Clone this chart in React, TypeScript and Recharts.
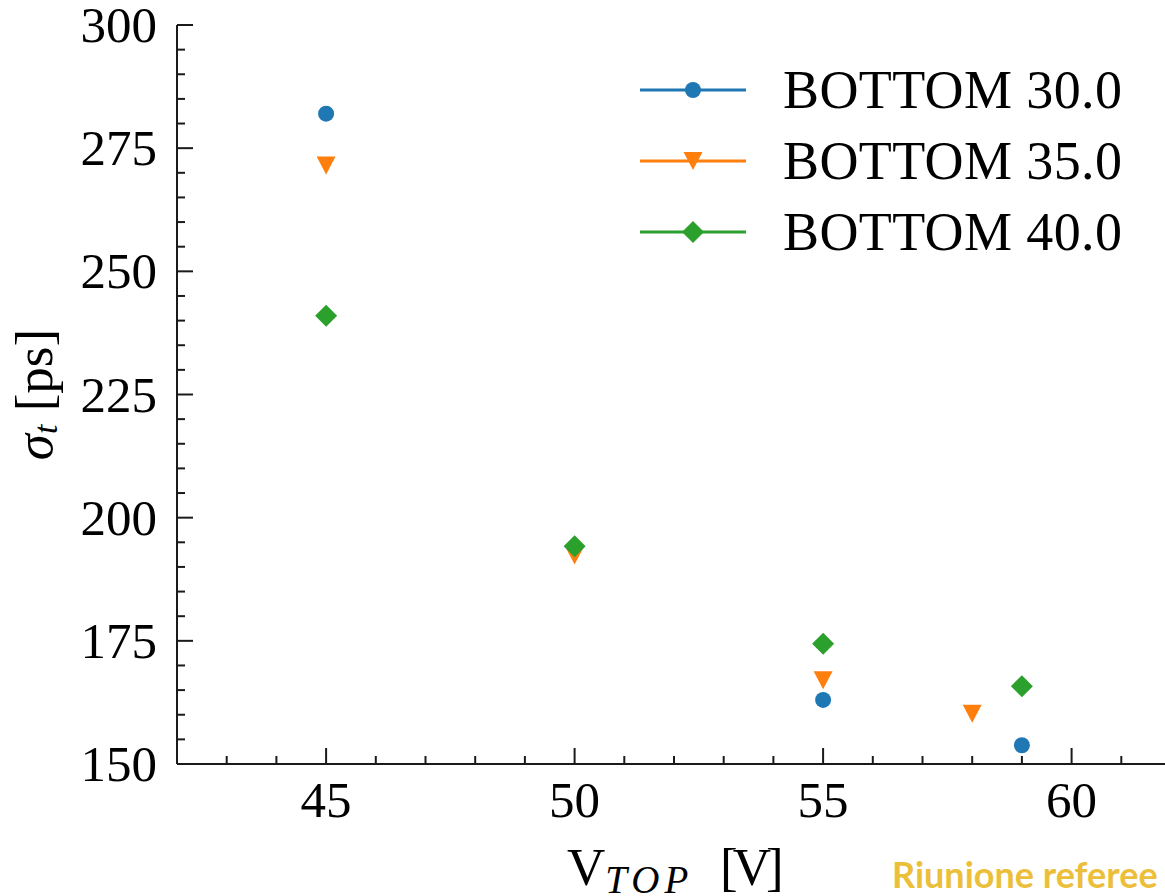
import { ScatterChart, Scatter, XAxis, YAxis, Legend } from "recharts";

// sigma_t [ps] vs V_TOP [V], one series per BOTTOM voltage
const bottom30 = [
  { v: 45, sigma: 282 },
  { v: 55, sigma: 163 },
  { v: 59, sigma: 153.8 },
];
const bottom35 = [
  { v: 45, sigma: 271.5 },
  { v: 50, sigma: 192.3 },
  { v: 55, sigma: 167 },
  { v: 58, sigma: 160.2 },
];
const bottom40 = [
  { v: 45, sigma: 241 },
  { v: 50, sigma: 194.2 },
  { v: 55, sigma: 174.4 },
  { v: 59, sigma: 165.8 },
];

const seriesNames = ["BOTTOM 30.0", "BOTTOM 35.0", "BOTTOM 40.0"];
const seriesColors = ["#1f77b4", "#ff7f0e", "#2ca02c"];

const xTicks = [42, 43, 44, 45, 46, 47, 48, 49, 50, 51, 52, 53, 54, 55, 56, 57, 58, 59, 60, 61, 62];
const xMajor = [45, 50, 55, 60];
const yTicks = Array.from({ length: 31 }, (_, i) => 150 + i * 5);
const yMajor = [150, 175, 200, 225, 250, 275, 300];

const serif = "'Liberation Serif', 'DejaVu Serif', serif";
const ink = "#1a1a1a";

type MarkProps = { cx?: number; cy?: number; fill?: string };

const Dot = ({ cx = 0, cy = 0, fill }: MarkProps) => <circle cx={cx} cy={cy} r={8} fill={fill} />;
const TriDown = ({ cx = 0, cy = 0, fill }: MarkProps) => (
  <polygon points={`${cx - 9.5},${cy - 9} ${cx + 9.5},${cy - 9} ${cx},${cy + 9}`} fill={fill} />
);
const Diamond = ({ cx = 0, cy = 0, fill }: MarkProps) => (
  <polygon points={`${cx},${cy - 11} ${cx + 11},${cy} ${cx},${cy + 11} ${cx - 11},${cy}`} fill={fill} />
);
const marks = [Dot, TriDown, Diamond];

// inward ticks, labels only on majors
const BottomTick = (p: any) => {
  const major = xMajor.includes(p.payload.value);
  return (
    <g>
      <line x1={p.x} x2={p.x} y1={p.y} y2={p.y - (major ? 16 : 8)} stroke={ink} strokeWidth={2} />
      {major && (
        <text x={p.x} y={p.y + 53} textAnchor="middle" fontFamily={serif} fontSize={51} fill="#000">
          {p.payload.value}
        </text>
      )}
    </g>
  );
};
const TopTick = (p: any) => {
  const major = xMajor.includes(p.payload.value);
  return <line x1={p.x} x2={p.x} y1={p.y} y2={p.y + (major ? 16 : 8)} stroke={ink} strokeWidth={2} />;
};
const LeftTick = (p: any) => {
  const major = yMajor.includes(p.payload.value);
  return (
    <g>
      <line x1={p.x} x2={p.x + (major ? 16 : 8)} y1={p.y} y2={p.y} stroke={ink} strokeWidth={2} />
      {major && (
        <text x={p.x - 20} y={p.y + 17} textAnchor="end" fontFamily={serif} fontSize={51} fill="#000">
          {p.payload.value}
        </text>
      )}
    </g>
  );
};
const RightTick = (p: any) => {
  const major = yMajor.includes(p.payload.value);
  return <line x1={p.x} x2={p.x - (major ? 16 : 8)} y1={p.y} y2={p.y} stroke={ink} strokeWidth={2} />;
};

const LegendBox = () => (
  <div style={{ fontFamily: serif, fontSize: 54, color: "#000" }}>
    {seriesNames.map((name, i) => {
      const Mark = marks[i];
      return (
        <div key={name} style={{ display: "flex", alignItems: "center", height: 71 }}>
          <svg width={110} height={30} style={{ display: "block" }}>
            <line x1={2} x2={108} y1={15} y2={15} stroke={seriesColors[i]} strokeWidth={3} />
            <Mark cx={55} cy={15} fill={seriesColors[i]} />
          </svg>
          <span style={{ marginLeft: 35, letterSpacing: 0.4, lineHeight: 1 }}>{name}</span>
        </div>
      );
    })}
  </div>
);

const XLabel = (lp: any) => {
  const vb = lp.viewBox;
  const cx = vb.x + vb.width / 2;
  const base = vb.y + 121;
  return (
    <text x={cx - 107} y={base} fontFamily={serif} fontSize={53} fill="#000">
      V
      <tspan fontStyle="italic" fontSize={39} dy={8} letterSpacing={5}>TOP</tspan>
      <tspan x={cx + 46} dy={-8} letterSpacing={-5}>[V]</tspan>
    </text>
  );
};

const YLabel = (lp: any) => {
  const vb = lp.viewBox;
  const cx = vb.x + 52;
  const cy = vb.y + vb.height / 2;
  return (
    <text
      x={cx}
      y={cy}
      transform={`rotate(-90 ${cx} ${cy})`}
      textAnchor="middle"
      fontFamily={serif}
      fontSize={53}
      fill="#000"
    >
      <tspan fontStyle="italic">σ</tspan>
      <tspan fontStyle="italic" fontSize={34} dy={5}>t</tspan>
      <tspan dy={-5}> [ps]</tspan>
    </text>
  );
};

const axisLine = { stroke: ink, strokeWidth: 2 };

export default function App() {
  const all = [bottom30, bottom35, bottom40];
  return (
    <div
      style={{
        position: "fixed",
        left: 0,
        top: 0,
        width: 1165,
        height: 896,
        overflow: "hidden",
        background: "#fff",
      }}
    >
      <ScatterChart width={1200} height={896} margin={{ top: 25, right: 29, bottom: 0, left: 0 }}>
        <XAxis
          xAxisId="b"
          type="number"
          dataKey="v"
          domain={[42, 62]}
          ticks={xTicks}
          interval={0}
          height={132}
          tickSize={0}
          tickMargin={0}
          axisLine={axisLine}
          tick={<BottomTick />}
          label={{ content: (lp: any) => <XLabel {...lp} /> }}
        />
        <XAxis
          xAxisId="t"
          orientation="top"
          type="number"
          dataKey="v"
          domain={[42, 62]}
          ticks={xTicks}
          interval={0}
          height={0}
          tickSize={0}
          tickMargin={0}
          axisLine={axisLine}
          tick={<TopTick />}
        />
        <YAxis
          yAxisId="l"
          type="number"
          dataKey="sigma"
          domain={[150, 300]}
          ticks={yTicks}
          interval={0}
          width={177}
          tickSize={0}
          tickMargin={0}
          axisLine={axisLine}
          tick={<LeftTick />}
          label={{ content: (lp: any) => <YLabel {...lp} /> }}
        />
        <YAxis
          yAxisId="r"
          orientation="right"
          type="number"
          dataKey="sigma"
          domain={[150, 300]}
          ticks={yTicks}
          interval={0}
          width={0}
          tickSize={0}
          tickMargin={0}
          axisLine={axisLine}
          tick={<RightTick />}
        />
        <Legend
          layout="vertical"
          align="center"
          verticalAlign="middle"
          content={<LegendBox />}
          wrapperStyle={{ left: 638, top: 54, width: 520, height: 220 }}
        />
        {all.map((data, i) => {
          const Mark = marks[i];
          return (
            <Scatter
              key={seriesNames[i]}
              name={seriesNames[i]}
              data={data}
              xAxisId="b"
              yAxisId="l"
              fill={seriesColors[i]}
              shape={(sp: any) => <Mark cx={sp.cx} cy={sp.cy} fill={seriesColors[i]} />}
              isAnimationActive={false}
            />
          );
        })}
      </ScatterChart>
      <div
        style={{
          position: "absolute",
          left: 892,
          top: 853,
          fontFamily: "Lato, 'Open Sans', sans-serif",
          fontWeight: 700,
          fontSize: 36,
          lineHeight: 1.2,
          color: "#ecbf3a",
          whiteSpace: "nowrap",
        }}
      >
        Riunione referee
      </div>
    </div>
  );
}
